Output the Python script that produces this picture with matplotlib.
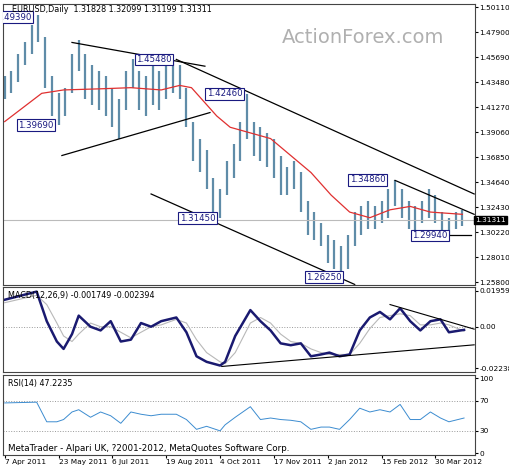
import matplotlib
matplotlib.use('Agg')
import matplotlib.pyplot as plt
import numpy as np

# price bars, one every 4 trading days
bar_days = list(range(0, 273, 4))
bar_high = [1.440, 1.445, 1.460, 1.470, 1.485, 1.4939, 1.475, 1.440, 1.425, 1.430,
            1.460, 1.472, 1.460, 1.450, 1.445, 1.440, 1.430, 1.420, 1.445, 1.455,
            1.445, 1.440, 1.450, 1.445, 1.450, 1.4548, 1.450, 1.430, 1.400, 1.385,
            1.375, 1.350, 1.340, 1.365, 1.380, 1.400, 1.4246, 1.400, 1.395, 1.390,
            1.385, 1.370, 1.360, 1.365, 1.355, 1.330, 1.320, 1.310, 1.300, 1.295,
            1.290, 1.300, 1.320, 1.325, 1.330, 1.325, 1.330, 1.340, 1.3486, 1.340,
            1.330, 1.325, 1.330, 1.340, 1.335, 1.320, 1.315, 1.320, 1.322]
bar_low = [1.420, 1.425, 1.435, 1.450, 1.460, 1.470, 1.430, 1.405, 1.3969, 1.405,
           1.425, 1.445, 1.420, 1.415, 1.410, 1.405, 1.395, 1.385, 1.410, 1.430,
           1.410, 1.405, 1.415, 1.410, 1.420, 1.425, 1.420, 1.395, 1.365, 1.355,
           1.340, 1.320, 1.3145, 1.335, 1.350, 1.365, 1.385, 1.370, 1.365, 1.360,
           1.350, 1.335, 1.335, 1.340, 1.320, 1.300, 1.295, 1.290, 1.275, 1.270,
           1.2625, 1.270, 1.290, 1.300, 1.305, 1.305, 1.310, 1.315, 1.325, 1.315,
           1.305, 1.300, 1.310, 1.315, 1.310, 1.2994, 1.300, 1.305, 1.308]

ma_days = [0, 22, 35, 57, 75, 93, 104, 111, 117, 126, 134, 146, 158, 170, 182, 194, 205, 217, 229, 241, 253, 272]
ma_vals = [1.400, 1.425, 1.428, 1.429, 1.430, 1.428, 1.432, 1.430, 1.420, 1.405, 1.395,
           1.390, 1.385, 1.370, 1.355, 1.335, 1.320, 1.315, 1.322, 1.325, 1.320, 1.318]

ind_days = [0, 19, 25, 31, 35, 40, 44, 51, 57, 63, 69, 75, 81, 87, 93, 102, 108, 114, 120, 128, 131, 137,
            146, 152, 158, 164, 170, 176, 182, 188, 193, 199, 205, 211, 217, 223, 229, 235, 241, 247,
            253, 259, 264, 273]
macd = [0.0146, 0.019, 0.003, -0.008, -0.012, -0.004, 0.006, 0.0, -0.002, 0.003, -0.008, -0.007,
        0.002, 0.0, 0.003, 0.005, -0.003, -0.016, -0.019, -0.021, -0.019, -0.005, 0.009, 0.003,
        -0.002, -0.009, -0.010, -0.009, -0.016, -0.015, -0.014, -0.016, -0.015, -0.002, 0.005,
        0.008, 0.004, 0.010, 0.003, -0.002, 0.003, 0.004, -0.003, -0.0017]
signal = [0.013, 0.017, 0.012, 0.002, -0.005, -0.008, -0.004, 0.002, 0.0, 0.0, -0.003, -0.006,
          -0.003, 0.0, 0.001, 0.004, 0.002, -0.007, -0.014, -0.019, -0.020, -0.014, 0.002, 0.005,
          0.002, -0.004, -0.008, -0.009, -0.012, -0.014, -0.015, -0.015, -0.015, -0.009, -0.001,
          0.005, 0.006, 0.007, 0.006, 0.001, 0.001, 0.002, 0.001, -0.0024]
rsi = [67, 68, 42, 42, 45, 55, 58, 48, 55, 50, 40, 55, 52, 50, 52, 52, 45, 32, 36, 30, 38, 48,
       62, 45, 47, 45, 44, 42, 32, 35, 35, 32, 45, 60, 55, 58, 55, 65, 45, 45, 55, 47, 42, 47]

# trend lines (day, price)
price_lines = [((40, 1.470), (119, 1.449)), ((102, 1.455), (279, 1.336)),
               ((34, 1.370), (122, 1.408)), ((87, 1.336), (208, 1.256)),
               ((232, 1.348), (279, 1.318)), ((259, 1.2994), (277, 1.2994))]
macd_lines = [((129, -0.0215), (279, -0.0098)), ((229, 0.012), (279, -0.0013))]

labels = [("1.49390", -5, 1.4925, 'left'), ("1.39690", 8, 1.3969, 'left'),
          ("1.45480", 78, 1.4548, 'left'), ("1.42460", 120, 1.4246, 'left'),
          ("1.31450", 104, 1.3145, 'left'), ("1.26250", 179, 1.2625, 'left'),
          ("1.34860", 205, 1.3486, 'left'), ("1.29940", 242, 1.2994, 'left')]

last_price = 1.31311
date_days = [0, 32, 64, 96, 128, 160, 192, 224, 256]
date_labels = ['7 Apr 2011', '23 May 2011', '6 Jul 2011', '19 Aug 2011', '4 Oct 2011',
               '17 Nov 2011', '2 Jan 2012', '15 Feb 2012', '30 Mar 2012']
price_ticks = [1.25800, 1.28010, 1.30220, 1.32430, 1.34640, 1.36850, 1.39060,
               1.41270, 1.43480, 1.45690, 1.47900, 1.50110]

plt.rcParams['font.family'] = 'DejaVu Sans'
plt.rcParams['font.size'] = 5.5
W, H = 510, 472
fig = plt.figure(figsize=(W / 100, H / 100), dpi=100)
L, R = 3 / W, 475 / W


def panel(top, bot):
    ax = fig.add_axes([L, 1 - bot / H, R - L, (bot - top) / H])
    ax.set_xlim(-1, 279.5)
    ax.yaxis.tick_right()
    ax.tick_params(axis='y', length=2, pad=1, labelsize=5.3)
    ax.tick_params(axis='x', length=0, labelbottom=False)
    for s in ax.spines.values():
        s.set_color('#444444')
    return ax


ax = panel(4, 285)
ax.set_ylim(1.2555, 1.5040)
ax.vlines(bar_days, bar_low, bar_high, color='#5f8ca8', lw=1.6)
ax.plot(ma_days, ma_vals, color='#e03030', lw=0.9)
ax.axhline(last_price, color='#bbbbbb', lw=0.8)
for (x0, y0), (x1, y1) in price_lines:
    ax.plot([x0, x1], [y0, y1], color='black', lw=0.9)
for txt, d, p, ha in labels:
    ax.text(d, p, txt, ha=ha, va='center', color='#1a1a80', fontsize=6.2, clip_on=True,
            bbox=dict(boxstyle='square,pad=0.15', fc='white', ec='#1a1a80', lw=0.8))
ax.set_yticks(price_ticks)
ax.set_yticklabels([f"{t:.5f}" for t in price_ticks])
ax.text(1.0, last_price, f"{last_price:.5f}", transform=ax.get_yaxis_transform(),
        ha='left', va='center', color='white', fontsize=5.3,
        bbox=dict(boxstyle='square,pad=0.15', fc='black', ec='black'))
ax.text(0.02, 0.995, "EURUSD,Daily  1.31828 1.32099 1.31199 1.31311", transform=ax.transAxes,
        ha='left', va='top', fontsize=5.8)
ax.text(0.59, 0.88, "ActionForex.com", transform=ax.transAxes, color='#b0b0b0',
        fontsize=14, ha='left', va='center')

ax2 = panel(287, 372)
ax2.set_ylim(-0.0245, 0.0215)
ax2.axhline(0, color='#999999', lw=0.7, ls=':')
ax2.plot(ind_days, signal, color='#b8b8b8', lw=0.8)
ax2.plot(ind_days, macd, color='#1a1a70', lw=1.8)
for (x0, y0), (x1, y1) in macd_lines:
    ax2.plot([x0, x1], [y0, y1], color='black', lw=0.8)
ax2.set_yticks([0.01959, 0.0, -0.02238])
ax2.set_yticklabels(['0.01959', '0.00', '-0.02238'])
ax2.text(0.01, 0.95, "MACD(12,26,9) -0.001749 -0.002394", transform=ax2.transAxes,
         ha='left', va='top', fontsize=5.8)

ax3 = panel(375, 455)
ax3.set_ylim(-2, 104)
for lv in (70, 30):
    ax3.axhline(lv, color='#999999', lw=0.7, ls=':')
ax3.plot(ind_days, rsi, color='#3c8cd0', lw=0.7)
ax3.set_yticks([100, 70, 30, 0])
ax3.text(0.01, 0.95, "RSI(14) 47.2235", transform=ax3.transAxes, ha='left', va='top', fontsize=5.8)
ax3.text(0.01, 0.03, "MetaTrader - Alpari UK, ?2001-2012, MetaQuotes Software Corp.",
         transform=ax3.transAxes, ha='left', va='bottom', fontsize=6.3)
ax3.set_xticks(date_days)
ax3.set_xticklabels(date_labels, ha='left')
ax3.tick_params(axis='x', labelbottom=True, length=2, pad=1, labelsize=5.3)

fig.savefig('out.png', dpi=100)
